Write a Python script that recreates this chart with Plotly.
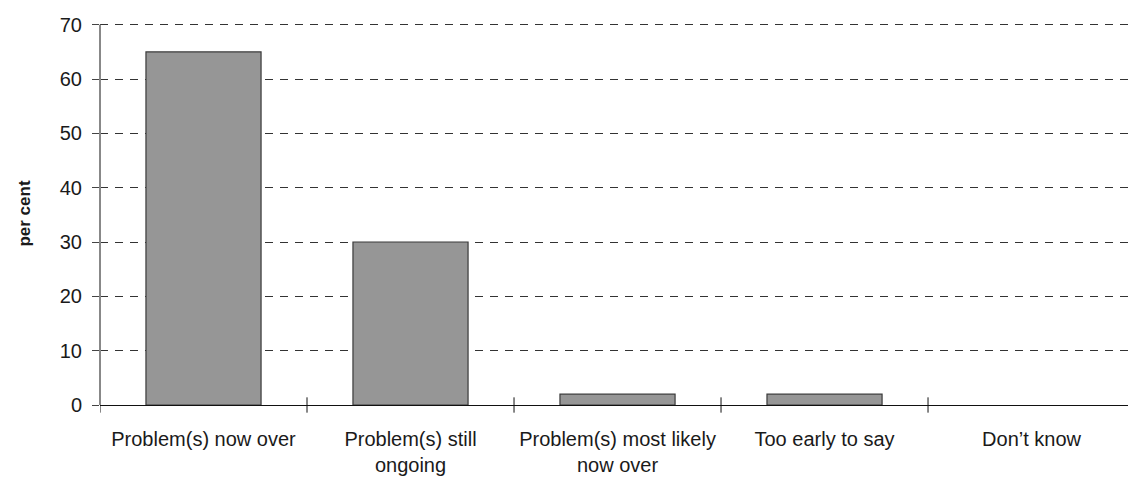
import plotly.graph_objects as go

categories = [
    "Problem(s) now over",
    "Problem(s) still<br>ongoing",
    "Problem(s) most likely<br>now over",
    "Too early to say",
    "Don\u2019t know",
]
values = [65, 30, 2, 2, 0]
y_ticks = [0, 10, 20, 30, 40, 50, 60, 70]

FONT = "Liberation Sans Narrow, Arial Narrow, Liberation Sans, Arial, sans-serif"

fig = go.Figure(
    go.Bar(
        x=list(range(len(categories))),
        y=values,
        marker=dict(
            color="#969696",
            line=dict(color="#3a3a3a", width=[1.2 if v > 0 else 0 for v in values]),
        ),
        width=0.556,
        hoverinfo="skip",
    )
)

# tick marks at category boundaries, crossing the baseline
for i in range(len(categories) + 1):
    fig.add_shape(
        type="line", xref="x", yref="paper",
        x0=i - 0.5, x1=i - 0.5, y0=-0.02, y1=0.02,
        line=dict(color="#111111", width=1),
    )

fig.update_layout(
    width=1128,
    height=480,
    margin=dict(l=100, r=0, t=22, b=75),
    paper_bgcolor="white",
    plot_bgcolor="white",
    showlegend=False,
    font=dict(family=FONT, size=20, color="#1a1a1a"),
    bargap=0.444,
)

fig.update_xaxes(
    range=[-0.5, 4.466],
    tickmode="array",
    tickvals=list(range(len(categories))),
    ticktext=categories,
    ticks="",
    showgrid=False,
    showline=True,
    linecolor="#111111",
    linewidth=1,
    zeroline=False,
    tickfont=dict(size=20),
    ticklabelstandoff=16,
    fixedrange=True,
)

fig.update_yaxes(
    range=[0, 70.5],
    tickmode="array",
    tickvals=y_ticks,
    ticks="outside",
    ticklen=7,
    tickcolor="#444444",
    tickwidth=1,
    showline=False,
    showgrid=True,
    gridcolor="#333333",
    gridwidth=1,
    griddash="8px,7px",
    zeroline=False,
    tickfont=dict(size=20),
    ticklabelstandoff=6,
    title=dict(text="<b>per cent</b>", font=dict(size=17), standoff=24),
    fixedrange=True,
)

# vertical value axis line spanning 0 to 70
fig.add_shape(
    type="line", xref="paper", yref="y",
    x0=0, x1=0, y0=y_ticks[0], y1=y_ticks[-1],
    line=dict(color="#888888", width=2),
)

fig.write_html("out.html")
